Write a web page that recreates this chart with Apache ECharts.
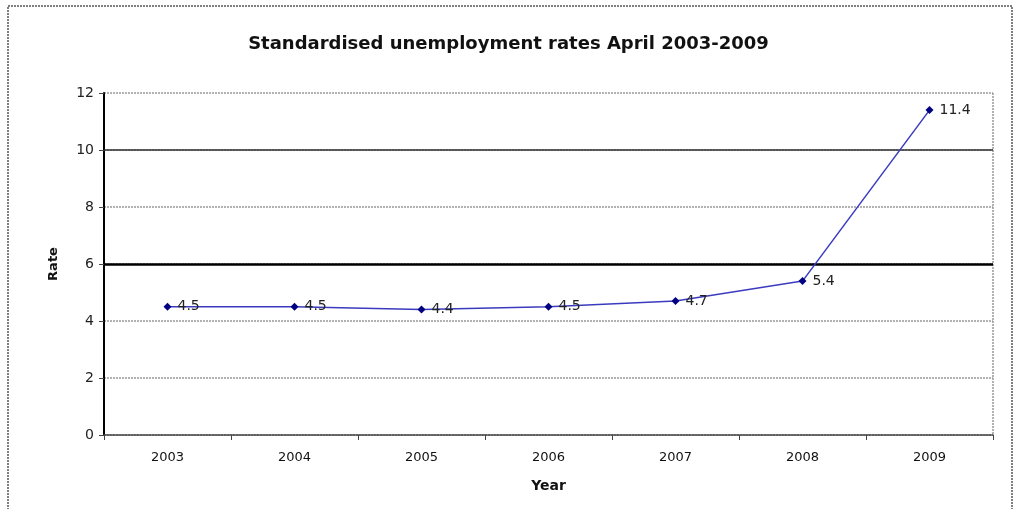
<!DOCTYPE html>
<html><head><meta charset="utf-8">
<script src="https://cdn.jsdelivr.net/npm/echarts@6/dist/echarts.min.js"></script>
<style>html,body{margin:0;padding:0;background:#fff}#c{width:1017px;height:509px}</style>
</head><body><div id="c"></div>
<script>
const years = ['2003','2004','2005','2006','2007','2008','2009'];
const rates = [4.5, 4.5, 4.4, 4.5, 4.7, 5.4, 11.4];
const yTicks = [0, 2, 4, 6, 8, 10, 12];
const titleText = 'Standardised unemployment rates April 2003-2009';

const chart = echarts.init(document.getElementById('c'));
const font = 'DejaVu Sans, Verdana, sans-serif';
chart.setOption({
  animation: false,
  backgroundColor: '#fff',
  graphic: [{
    type: 'rect', shape: {x: 8, y: 6, width: 1004, height: 520},
    style: {fill: 'none', stroke: '#555', lineWidth: 1.5, lineDash: [2, 1]}, silent: true
  }, {
    type: 'line', shape: {x1: 993, y1: 93, x2: 993, y2: 435},
    style: {stroke: '#999', lineWidth: 1.5, lineDash: [2, 1]}, silent: true
  }],
  title: {
    text: titleText, left: 'center', top: 30,
    textStyle: {fontFamily: font, fontSize: 18, fontWeight: 'bold', color: '#111'}
  },
  grid: {left: 104, right: 24, top: 93, bottom: 74, containLabel: false},
  xAxis: {
    type: 'category', data: years, boundaryGap: true,
    name: 'Year', nameLocation: 'middle', nameGap: 44,
    nameTextStyle: {fontFamily: font, fontSize: 14, fontWeight: 'bold', color: '#111'},
    axisLine: {lineStyle: {color: '#444', width: 1.5, type: [3, 1]}},
    axisTick: {show: true, alignWithLabel: false, length: 5, lineStyle: {color: '#444'}},
    axisLabel: {fontFamily: font, fontSize: 13, color: '#111', margin: 16},
    splitLine: {show: false}
  },
  yAxis: {
    type: 'value', min: 0, max: 12, interval: 2,
    name: 'Rate', nameLocation: 'middle', nameGap: 44, nameRotate: 90,
    nameTextStyle: {fontFamily: font, fontSize: 13, fontWeight: 'bold', color: '#111'},
    axisLine: {show: true, lineStyle: {color: '#000', width: 2}},
    axisTick: {show: true, length: 5, lineStyle: {color: '#444'}},
    axisLabel: {fontFamily: font, fontSize: 14, color: '#222', margin: 10,
      formatter: v => yTicks.includes(v) ? String(v) : ''},
    splitLine: {show: true, lineStyle: {color: '#999', width: 1.5, type: [2, 1]}}
  },
  series: [{
    type: 'line', data: rates,
    symbol: 'diamond', symbolSize: 8,
    itemStyle: {color: '#000080'},
    lineStyle: {color: '#3b3bbf', width: 1.5},
    label: {show: true, position: 'right', distance: 6, fontFamily: font, fontSize: 14, color: '#222'},
    markLine: {
      silent: true, symbol: 'none', label: {show: false},
      data: [
        {yAxis: 10, lineStyle: {color: '#333', width: 1.5, type: 'solid'}},
        {yAxis: 6, lineStyle: {color: '#000', width: 2.5, type: 'solid'}}
      ]
    },
    z: 5
  }]
});
</script></body></html>
